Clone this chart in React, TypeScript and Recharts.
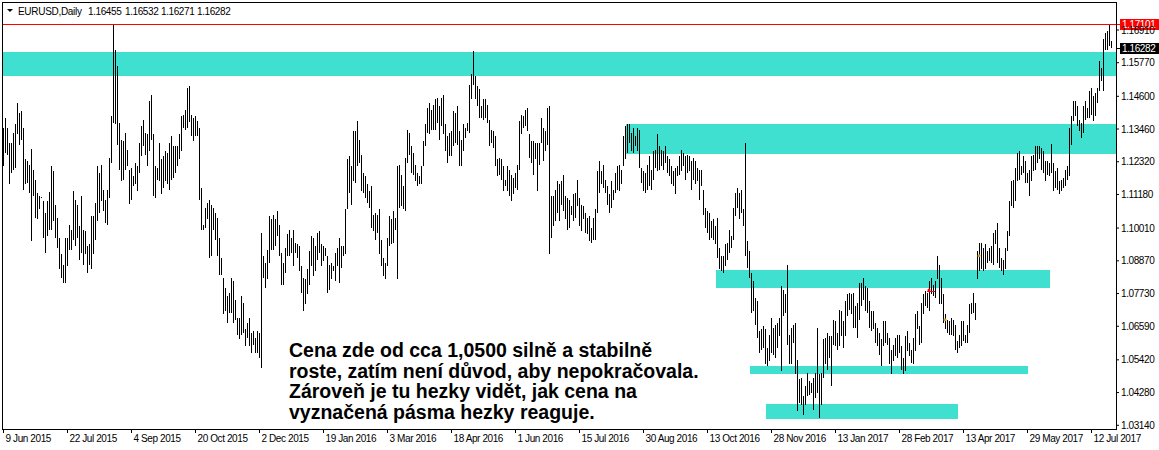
import React from 'react';
import { ComposedChart, Bar, XAxis, YAxis, ReferenceArea, ReferenceLine, ReferenceDot } from 'recharts';

// Daily EURUSD bars (high / low), 9 Jun 2015 .. 26 Jul 2017
const highs: number[] = [
  1.1350,1.1385,1.1350,1.1298,1.1298,1.1333,1.1362,1.1437,1.1402,1.1410,
  1.1350,1.1240,1.1234,1.1222,1.1277,1.1205,1.1170,1.1124,1.1112,1.1110,
  1.1095,1.1054,1.1095,1.1126,1.1216,1.1199,1.1083,1.1037,1.0967,1.0909,
  1.0874,1.0967,1.0967,1.1013,1.0996,1.1129,1.1100,1.1083,1.1008,1.1112,
  1.0996,1.0990,1.0938,1.0944,1.1042,1.1042,1.1089,1.1216,1.1193,1.1222,
  1.1135,1.1100,1.1135,1.1246,1.1390,1.1710,1.1623,1.1565,1.1367,1.1309,
  1.1304,
  1.1333,1.1274,1.1205,1.1211,1.1182,1.1228,1.1216,1.1298,1.1356,1.1377,
  1.1333,1.1327,1.1443,1.1463,1.1327,1.1216,1.1211,1.1298,1.1240,1.1251,
  1.1269,1.1263,1.1298,1.1321,1.1286,1.1286,1.1286,1.1327,1.1390,1.1396,
  1.1414,1.1489,1.1497,1.1396,1.1385,1.1390,1.1373,1.1350,1.1141,1.1013,
  1.1071,1.1089,1.1100,1.1083,1.1071,1.1054,1.1037,1.0967,1.0897,1.0828,
  1.0793,1.0764,1.0775,1.0828,1.0816,1.0752,1.0688,1.0688,1.0764,1.0740,
  1.0648,1.0671,
  1.0688,1.0636,1.0642,1.0619,1.0642,1.0636,1.0984,1.0903,1.0880,1.0926,
  1.1042,1.1031,1.1048,1.1031,1.1060,1.1013,1.0915,1.0880,1.0932,1.0979,
  1.0996,1.0967,1.0996,1.0950,1.0944,1.0938,1.0868,1.0828,1.0822,1.0857,
  1.0920,1.0973,1.0967,1.0938,1.0984,1.0990,1.0944,1.0938,1.0932,1.0903,
  1.0874,1.0880,1.0868,1.0915,1.0932,1.0967,1.0938,1.0938,1.1066,1.1240,
  1.1251,1.1216,1.1338,1.1338,1.1373,1.1309,1.1257,1.1193,1.1182,1.1153,
  1.1129,1.1147,
  1.1048,1.1054,1.1048,1.1066,1.0961,1.0897,1.0880,1.0967,1.1042,1.1031,
  1.1060,1.1037,1.1216,1.1222,1.1187,1.1147,1.1246,1.1344,1.1333,1.1286,
  1.1263,1.1222,1.1193,1.1182,1.1216,1.1304,1.1362,1.1420,1.1437,1.1414,
  1.1431,1.1449,1.1454,1.1425,1.1454,1.1466,1.1362,1.1321,1.1333,1.1338,
  1.1408,1.1402,1.1425,1.1338,1.1309,1.1362,1.1350,1.1367,1.1501,1.1536,
  1.1617,1.1530,1.1495,1.1484,1.1425,1.1449,1.1449,1.1431,1.1379,1.1344,
  1.1338,1.1321,
  1.1240,1.1246,1.1240,1.1216,1.1170,1.1216,1.1205,1.1187,1.1176,1.1193,
  1.1222,1.1373,1.1396,1.1390,1.1414,1.1420,1.1327,1.1304,1.1304,1.1298,
  1.1298,1.1298,1.1385,1.1350,1.1338,1.1420,1.1425,1.1112,1.1112,1.1135,
  1.1164,1.1153,1.1164,1.1187,1.1112,1.1106,1.1100,1.1077,1.1118,1.1124,
  1.1170,1.1106,1.1083,1.1077,1.1054,1.1037,1.1042,1.1002,1.1037,1.1066,
  1.1199,1.1234,1.1199,1.1222,1.1170,1.1147,1.1118,1.1164,1.1135,1.1193,
  1.1216,1.1222,
  1.1205,1.1321,1.1356,1.1362,1.1362,1.1333,1.1350,1.1321,1.1350,1.1344,
  1.1211,1.1199,1.1193,1.1222,1.1251,1.1205,1.1269,1.1274,1.1327,1.1286,
  1.1274,1.1269,1.1286,1.1251,1.1240,1.1216,1.1199,1.1211,1.1216,1.1251,
  1.1274,1.1263,1.1251,1.1257,1.1251,1.1234,1.1246,1.1234,1.1211,1.1205,
  1.1205,1.1135,1.1071,1.1060,1.1054,1.1025,1.1031,1.1008,1.1037,1.0932,
  1.0903,1.0903,1.0944,1.0950,1.0996,1.0973,1.1071,1.1124,1.1141,1.1124,
  1.1135,1.1066,
  1.1298,1.0955,1.0920,1.0845,1.0816,1.0758,1.0746,1.0642,1.0648,1.0659,
  1.0648,1.0584,1.0630,1.0688,1.0653,1.0665,1.0671,1.0688,1.0799,1.0787,
  1.0770,1.0874,1.0630,1.0653,1.0665,1.0671,1.0543,1.0474,1.0479,1.0415,
  1.0450,1.0497,1.0468,1.0462,1.0479,1.0497,1.0653,1.0491,1.0497,1.0613,
  1.0619,1.0636,1.0624,1.0624,1.0682,1.0677,1.0636,1.0717,1.0711,1.0677,
  1.0746,1.0770,1.0775,1.0770,1.0775,1.0729,1.0740,1.0810,1.0810,1.0828,
  1.0799,1.0793,
  1.0746,1.0711,1.0711,1.0671,1.0653,1.0636,1.0613,1.0677,1.0677,1.0636,
  1.0619,1.0578,1.0595,1.0619,1.0630,1.0630,1.0590,1.0549,1.0624,1.0642,
  1.0601,1.0578,1.0619,1.0700,1.0711,1.0659,1.0740,1.0770,1.0781,1.0775,
  1.0816,1.0828,1.0804,1.0816,1.0903,1.0874,1.0828,1.0770,1.0700,1.0682,
  1.0677,1.0688,1.0682,1.0665,1.0607,1.0630,1.0677,1.0677,1.0630,1.0665,
  1.0735,1.0740,1.0775,1.0740,1.0920,1.0950,1.0950,1.0932,1.0944,1.0920,
  1.0932,1.0938,
  1.0984,1.0996,1.1019,1.0932,1.0897,1.0891,1.0932,1.0990,1.1095,1.1164,
  1.1170,1.1211,1.1263,1.1269,1.1216,1.1251,1.1234,1.1193,1.1205,1.1251,
  1.1257,1.1286,1.1286,1.1286,1.1280,1.1269,1.1234,1.1234,1.1228,1.1295,
  1.1228,1.1199,1.1211,1.1164,1.1170,1.1176,1.1205,1.1216,1.1350,1.1390,
  1.1443,1.1443,1.1425,1.1379,1.1367,1.1425,1.1443,1.1420,1.1478,1.1489,
  1.1460,1.1472,1.1489,1.1582,1.1559,1.1658,1.1681,1.1687,1.1710,1.16532,
];

const lows: number[] = [
  1.1216,1.1263,1.1257,1.1153,1.1193,1.1205,1.1211,1.1327,1.1292,1.1309,
  1.1135,1.1153,1.1158,1.1124,1.0955,1.1112,1.1037,1.1031,1.1066,1.1105,
  1.0967,1.0915,1.0973,1.0996,1.0996,1.1025,1.0967,1.0932,1.0857,1.0828,
  1.0810,1.0810,1.0868,1.0926,1.0926,1.0961,1.0938,1.0967,1.0891,1.0915,
  1.0874,1.0909,1.0845,1.0874,1.0857,1.0909,1.0961,1.1025,1.1054,1.1095,
  1.1060,1.1019,1.1013,1.1106,1.1228,1.1367,1.1362,1.1292,1.1205,1.1164,
  1.1170,
  1.1205,1.1216,1.1086,1.1100,1.1147,1.1153,1.1129,1.1193,1.1251,1.1286,
  1.1257,1.1216,1.1269,1.1309,1.1112,1.1106,1.1170,1.1164,1.1118,1.1141,
  1.1164,1.1153,1.1135,1.1170,1.1176,1.1193,1.1216,1.1240,1.1269,1.1350,
  1.1344,1.1350,1.1370,1.1321,1.1304,1.1321,1.1321,1.1100,1.0996,1.0996,
  1.1002,1.1031,1.0897,1.0903,1.0996,1.0961,1.0903,1.0839,1.0839,1.0700,
  1.0711,1.0671,1.0706,1.0706,1.0671,1.0682,1.0630,1.0613,1.0630,1.0636,
  1.0590,1.0619,
  1.0590,1.0566,1.0595,1.0566,1.0566,1.0549,1.0514,1.0828,1.0793,1.0822,
  1.0880,1.0926,1.0926,1.0938,1.0973,1.0903,1.0804,1.0804,1.0845,1.0903,
  1.0903,1.0915,1.0868,1.0915,1.0897,1.0851,1.0775,1.0711,1.0735,1.0770,
  1.0804,1.0868,1.0833,1.0851,1.0891,1.0915,1.0868,1.0886,1.0903,1.0775,
  1.0787,1.0822,1.0851,1.0816,1.0868,1.0810,1.0862,1.0903,1.0909,1.1066,
  1.1124,1.1083,1.1164,1.1158,1.1216,1.1228,1.1129,1.1124,1.1106,1.1089,
  1.1071,1.1002,
  1.0990,1.0961,1.0984,1.0909,1.0868,1.0833,1.0822,1.0868,1.0938,1.0944,
  1.0950,1.0996,1.0822,1.1071,1.1077,1.1066,1.1060,1.1228,1.1257,1.1193,
  1.1187,1.1164,1.1147,1.1153,1.1153,1.1216,1.1286,1.1333,1.1327,1.1344,
  1.1344,1.1344,1.1367,1.1309,1.1356,1.1327,1.1269,1.1228,1.1251,1.1251,
  1.1286,1.1298,1.1292,1.1216,1.1216,1.1269,1.1315,1.1338,1.1333,1.1449,
  1.1501,1.1449,1.1425,1.1385,1.1385,1.1379,1.1385,1.1367,1.1286,1.1298,
  1.1280,1.1216,
  1.1182,1.1187,1.1170,1.1129,1.1147,1.1129,1.1112,1.1095,1.1118,1.1141,
  1.1135,1.1205,1.1327,1.1350,1.1356,1.1338,1.1246,1.1228,1.1187,1.1240,
  1.1129,1.1222,1.1298,1.1234,1.1269,1.1292,1.0909,1.0967,1.1008,1.1025,
  1.1054,1.1025,1.1083,1.1060,1.1031,1.0996,1.1002,1.1048,1.1025,1.1037,
  1.1077,1.1008,1.0990,1.1031,1.0984,1.0979,1.0955,1.0950,1.0961,1.0961,
  1.1054,1.1124,1.1153,1.1141,1.1124,1.1083,1.1054,1.1071,1.1100,1.1124,
  1.1135,1.1129,
  1.1153,1.1216,1.1240,1.1263,1.1298,1.1269,1.1263,1.1286,1.1269,1.1211,
  1.1158,1.1129,1.1124,1.1135,1.1147,1.1135,1.1170,1.1211,1.1199,1.1205,
  1.1216,1.1205,1.1228,1.1193,1.1182,1.1153,1.1147,1.1118,1.1182,1.1187,
  1.1199,1.1216,1.1170,1.1193,1.1199,1.1135,1.1170,1.1153,1.1164,1.1100,
  1.1147,1.1048,1.1002,1.0984,1.0961,1.0967,1.0961,1.0944,1.0897,1.0857,
  1.0851,1.0845,1.0868,1.0891,1.0915,1.0932,1.0961,1.1042,1.1071,1.1031,
  1.1054,1.1008,
  1.0903,1.0862,1.0828,1.0706,1.0711,1.0665,1.0619,1.0566,1.0578,1.0584,
  1.0526,1.0520,1.0537,1.0566,1.0560,1.0549,1.0584,1.0624,1.0502,1.0694,
  1.0706,1.0595,1.0526,1.0526,1.0601,1.0491,1.0363,1.0392,1.0386,1.0351,
  1.0386,1.0415,1.0421,1.0427,1.0369,1.0410,1.0427,1.0340,1.0386,1.0479,
  1.0526,1.0508,1.0549,1.0450,1.0595,1.0590,1.0578,1.0590,1.0624,1.0584,
  1.0624,1.0694,1.0717,1.0700,1.0653,1.0653,1.0619,1.0682,1.0729,1.0752,
  1.0711,1.0706,
  1.0653,1.0642,1.0648,1.0601,1.0590,1.0560,1.0520,1.0590,1.0601,1.0595,
  1.0526,1.0491,1.0537,1.0555,1.0549,1.0566,1.0508,1.0491,1.0502,1.0572,
  1.0555,1.0531,1.0526,1.0572,1.0648,1.0595,1.0601,1.0700,1.0729,1.0723,
  1.0711,1.0770,1.0764,1.0758,1.0822,1.0735,1.0735,1.0671,1.0648,1.0636,
  1.0630,1.0630,1.0624,1.0578,1.0566,1.0584,1.0590,1.0607,1.0601,1.0601,
  1.0636,1.0700,1.0706,1.0682,1.0822,1.0851,1.0857,1.0851,1.0857,1.0880,
  1.0886,1.0880,
  1.0874,1.0944,1.0880,1.0862,1.0851,1.0839,1.0857,1.0920,1.0973,1.1077,
  1.1071,1.1095,1.1164,1.1170,1.1187,1.1193,1.1158,1.1158,1.1112,1.1164,
  1.1199,1.1205,1.1228,1.1240,1.1205,1.1193,1.1164,1.1187,1.1182,1.1193,
  1.1129,1.1141,1.1135,1.1118,1.1129,1.1141,1.1147,1.1170,1.1182,1.1292,
  1.1373,1.1390,1.1356,1.1338,1.1315,1.1333,1.1379,1.1385,1.1385,1.1396,
  1.1373,1.1390,1.1437,1.1478,1.1513,1.1478,1.1623,1.1623,1.1634,1.16271,
];

const slotCount = 557; // 555 bars + 2 empty slots of right shift

const dateTickIdx = [0, 32, 64, 96, 128, 160, 192, 224, 256, 288, 320, 352, 384, 416, 448, 480, 512, 544];
const dateLabels = [
  '9 Jun 2015', '22 Jul 2015', '4 Sep 2015', '20 Oct 2015', '2 Dec 2015', '19 Jan 2016',
  '3 Mar 2016', '18 Apr 2016', '1 Jun 2016', '15 Jul 2016', '30 Aug 2016', '13 Oct 2016',
  '28 Nov 2016', '13 Jan 2017', '28 Feb 2017', '13 Apr 2017', '29 May 2017', '12 Jul 2017',
];

const priceTicks = [1.1691, 1.1577, 1.146, 1.1346, 1.1232, 1.1118, 1.1001, 1.0887, 1.0773, 1.0659, 1.0542, 1.0428, 1.0314];
const priceDomain: [number, number] = [1.03011, 1.1785];

// support / resistance zones
const zoneStart = [0, 312, 357, 374, 382];
const zoneEnd = [556, 556, 523, 512, 477];
const zoneLow = [1.15307, 1.1259, 1.07923, 1.04927, 1.0336];
const zoneHigh = [1.16143, 1.13635, 1.0855, 1.05206, 1.03882];

const highLevel = 1.17101;
const lastPrice = 1.16282;
const titleSymbol = 'EURUSD,Daily';
const titleOHLC = ['1.16455', '1.16532', '1.16271', '1.16282'];
const titleOHLCx = [88, 125, 161, 197];

const tradeIdx = [463, 471, 488];
const tradePrice = [1.078, 1.0682, 1.0905];

const noteLines = [
  'Cena zde od cca 1,0500 silně a stabilně',
  'roste, zatím není důvod, aby nepokračovala.',
  'Zároveň je tu hezky vidět, jak cena na',
  'vyznačená pásma hezky reaguje.',
];

const data = Array.from({ length: slotCount }, (_, i) => ({
  i,
  range: i < highs.length ? [lows[i], highs[i]] : null,
}));

const FONT = "'Liberation Sans', Arial, sans-serif";

const BarLine = (props: any) => {
  const { x, y, width, height, payload } = props;
  if (!payload || !payload.range || x == null || y == null) return <g />;
  const cx = Math.floor(x + width / 2 + 0.01);
  const t = Math.round(Math.min(y, y + height));
  const b = Math.round(Math.max(y, y + height));
  return <rect x={cx} y={t} width={1} height={Math.max(1, b - t)} fill="#000" />;
};

const DateTick = (props: any) => {
  const { x, y, payload } = props;
  const k = dateTickIdx.indexOf(payload.value);
  const label = k >= 0 ? dateLabels[k] : '';
  const px = Math.floor(x) + 0.5;
  return (
    <g>
      <line x1={px} x2={px} y1={y} y2={y + 4} stroke="#000" strokeWidth={1} />
      <text x={px + 2} y={y + 13} fontSize={10} fontFamily={FONT} letterSpacing={-0.4} fill="#000" textAnchor="start">
        {label}
      </text>
    </g>
  );
};

const priceTag = (bg: string, text: string) => (props: any) => {
  const vb = props.viewBox || {};
  const yy = Math.round((vb.y ?? 0) - 0.5);
  const xx = (vb.x ?? 0) + (vb.width ?? 0);
  return (
    <g>
      <line x1={xx} x2={xx + 5} y1={yy + 0.5} y2={yy + 0.5} stroke={bg} strokeWidth={1} />
      <rect x={xx + 4} y={yy - 5} width={39} height={11} fill={bg} />
      <text x={xx + 6} y={yy + 4} fontSize={10} fontFamily={FONT} letterSpacing={-0.4} fill="#fff">
        {text}
      </text>
    </g>
  );
};

export default function App() {
  return (
    <div style={{ position: 'absolute', left: 0, top: 0, width: 1159, height: 450, background: '#fff' }}>
      <ComposedChart
        width={1159}
        height={450}
        data={data}
        margin={{ top: 3, right: 0, bottom: 0, left: 2 }}
        barCategoryGap={0}
        barGap={0}
      >
        <XAxis
          dataKey="i"
          type="category"
          ticks={dateTickIdx}
          interval={0}
          height={21}
          tickSize={0}
          tickMargin={0}
          axisLine={false}
          tickLine={false}
          tick={<DateTick />}
        />
        <YAxis
          orientation="right"
          type="number"
          domain={priceDomain}
          ticks={priceTicks}
          interval={0}
          width={43}
          axisLine={false}
          tickLine={{ stroke: '#000' }}
          tickSize={3}
          tickMargin={2}
          tickFormatter={(v: number) => v.toFixed(5)}
          tick={{ fill: '#000', fontSize: 10, fontFamily: FONT, letterSpacing: -0.4 } as any}
        />
        {zoneStart.map((s, k) => (
          <ReferenceArea
            key={'z' + k}
            x1={s}
            x2={zoneEnd[k]}
            y1={zoneLow[k]}
            y2={zoneHigh[k]}
            fill="#40E0D0"
            fillOpacity={1}
            stroke="none"
            ifOverflow="visible"
          />
        ))}
        <ReferenceLine y={highLevel} stroke="#FF0000" strokeWidth={1} label={priceTag('#FF0000', highLevel.toFixed(5))} />
        <ReferenceLine y={lastPrice} stroke="none" strokeOpacity={0} label={priceTag('#000000', lastPrice.toFixed(5))} />
        <Bar dataKey="range" barSize={1} isAnimationActive={false} shape={<BarLine />} />
        <ReferenceLine
          segment={[{ x: tradeIdx[0] - 1, y: tradePrice[0] }, { x: tradeIdx[0] + 3, y: tradePrice[0] }]}
          stroke="#FF0000"
          strokeWidth={1}
        />
        <ReferenceDot x={tradeIdx[0]} y={tradePrice[0] + 0.0005} r={1.5} fill="#FF0000" stroke="none" />
        <ReferenceDot x={tradeIdx[1]} y={tradePrice[1]} r={1.5} fill="#D4A017" stroke="none" />
        <ReferenceDot x={tradeIdx[2]} y={tradePrice[2]} r={1.5} fill="#D4A017" stroke="none" />
      </ComposedChart>
      <svg
        width={1159}
        height={450}
        style={{ position: 'absolute', left: 0, top: 0, pointerEvents: 'none' }}
      >
        <rect x={2.5} y={2.5} width={1114} height={427} fill="none" stroke="#000" strokeWidth={1} />
        <polygon points="7,9 13,9 10,12" fill="#000" />
        <text x={18} y={15} fontSize={10} fontFamily={FONT} letterSpacing={-0.3} fill="#000">
          {titleSymbol}
        </text>
        {titleOHLC.map((t, k) => (
          <text key={t + k} x={titleOHLCx[k]} y={15} fontSize={10} fontFamily={FONT} letterSpacing={-0.4} fill="#000">
            {t}
          </text>
        ))}
        {noteLines.map((t, k) => (
          <text
            key={'n' + k}
            x={289}
            y={357 + k * 20.7}
            fontSize={19.5}
            fontWeight="bold"
            fontFamily={FONT}
            fill="#000"
          >
            {t}
          </text>
        ))}
      </svg>
    </div>
  );
}
